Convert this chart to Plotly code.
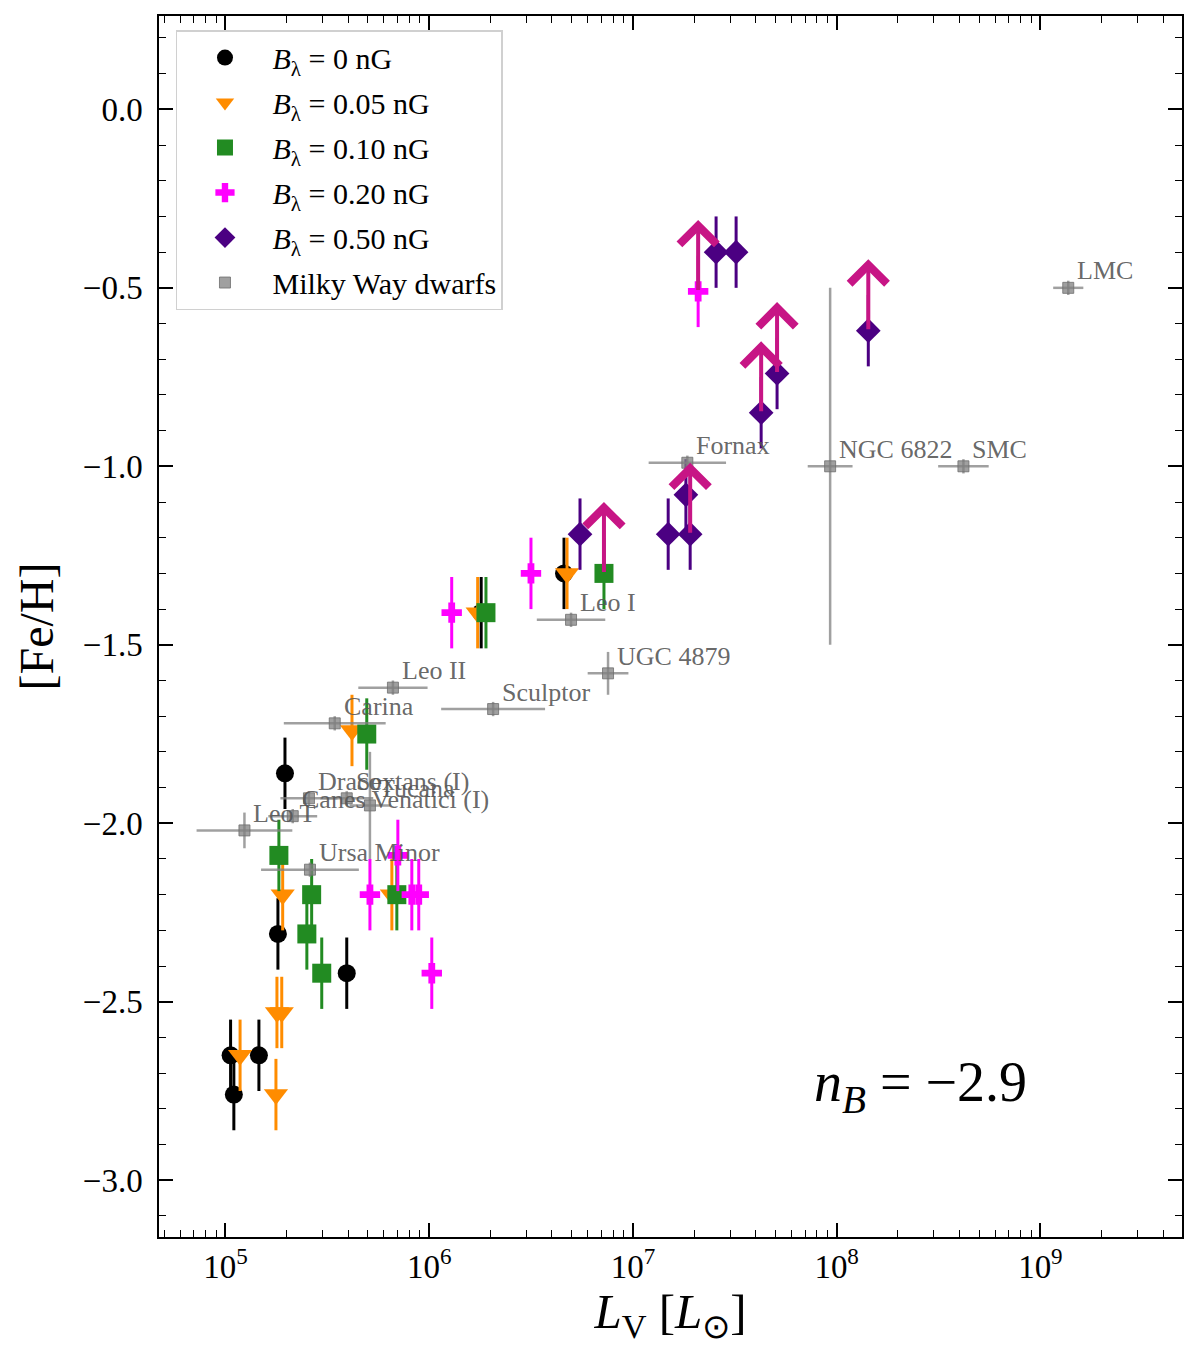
import numpy as np
import plotly.graph_objects as go

# ---------------- data ----------------
# B_lambda = 0 nG
L_b000 = [1.06e5, 1.10e5, 1.46e5, 1.81e5, 1.96e5, 3.94e5, 1.80e6, 4.59e6]
feh_b000 = [-2.65, -2.76, -2.65, -2.31, -1.86, -2.42, -1.41, -1.30]
# B_lambda = 0.05 nG
L_b005 = [1.18e5, 1.77e5, 1.79e5, 1.89e5, 1.91e5, 4.18e5, 6.56e5, 1.73e6, 4.75e6]
feh_b005 = [-2.65, -2.76, -2.53, -2.53, -2.20, -1.74, -2.20, -1.41, -1.30]
# B_lambda = 0.10 nG
L_b010 = [1.83e5, 2.65e5, 2.51e5, 2.97e5, 4.94e5, 6.94e5, 1.90e6, 7.21e6]
feh_b010 = [-2.09, -2.20, -2.31, -2.42, -1.75, -2.20, -1.41, -1.30]
# B_lambda = 0.20 nG
L_b020 = [5.12e5, 7.02e5, 8.22e5, 8.89e5, 1.03e6, 1.29e6, 3.16e6, 2.09e7]
feh_b020 = [-2.20, -2.09, -2.20, -2.20, -2.42, -1.41, -1.30, -0.51]
# B_lambda = 0.50 nG
L_b050 = [5.50e6, 1.49e7, 1.91e7, 1.82e7, 2.56e7, 3.21e7, 4.26e7, 5.10e7, 1.43e8]
feh_b050 = [-1.19, -1.19, -1.19, -1.08, -0.40, -0.40, -0.85, -0.74, -0.62]
feh_err = 0.1

# lower limits (arrows)
lim_L = [7.21e6, 2.09e7, 1.91e7, 4.26e7, 5.10e7, 1.43e8]
lim_feh = [-1.30, -0.51, -1.19, -0.85, -0.74, -0.62]
lim_len = 0.2

# Milky Way dwarfs
dwarf_names = ["Leo T", "Canes Venatici (I)", "Draco", "Sextans (I)", "Tucana",
               "Ursa Minor", "Carina", "Leo II", "Sculptor", "Leo I",
               "UGC 4879", "Fornax", "NGC 6822", "SMC", "LMC"]
dwarf_L = [1.24e5, 2.14e5, 2.57e5, 3.94e5, 5.12e5,
           2.60e5, 3.44e5, 6.64e5, 2.06e6, 4.97e6,
           7.55e6, 1.85e7, 9.29e7, 4.19e8, 1.37e9]
dwarf_feh = [-2.02, -1.98, -1.93, -1.93, -1.95,
             -2.13, -1.72, -1.62, -1.68, -1.43,
             -1.58, -0.99, -1.00, -1.00, -0.50]
dwarf_Lerr_dex = [0.235, 0.12, 0.14, 0.13, 0.10,
                  0.24, 0.25, 0.17, 0.255, 0.168,
                  0.10, 0.19, 0.11, 0.124, 0.074]
dwarf_feh_err = [0.05, 0.02, 0.02, 0.02, 0.15,
                 0.02, 0.02, 0.02, 0.02, 0.02,
                 0.06, 0.02, 0.50, 0.02, 0.02]

# ---------------- styling ----------------
FONT = "Liberation Serif"
GRAY = "rgba(128,128,128,0.75)"

series = [
    (L_b000, feh_b000, "black", "circle", 18, "<i>B</i><sub>λ</sub> = 0 nG"),
    (L_b005, feh_b005, "#FF8C00", "triangle-down", 21, "<i>B</i><sub>λ</sub> = 0.05 nG"),
    (L_b010, feh_b010, "#228B22", "square", 19, "<i>B</i><sub>λ</sub> = 0.10 nG"),
    (L_b020, feh_b020, "#FF00FF", "cross", 17, "<i>B</i><sub>λ</sub> = 0.20 nG"),
    (L_b050, feh_b050, "#4B0082", "diamond", 19, "<i>B</i><sub>λ</sub> = 0.50 nG"),
]

fig = go.Figure()

for i, (xs, ys, col, sym, sz, name) in enumerate(series):
    fig.add_trace(go.Scatter(
        x=xs, y=ys, mode="markers", name=name, legendgroup="g%d" % i,
        marker=dict(color=col, symbol=sym, size=sz, line=dict(width=0)),
        error_y=dict(type="constant", value=feh_err, color=col, thickness=3, width=0),
    ))

Ld = np.array(dwarf_L)
dex = np.array(dwarf_Lerr_dex)
fig.add_trace(go.Scatter(
    x=dwarf_L, y=dwarf_feh, mode="markers", name="Milky Way dwarfs", legendgroup="gd",
    marker=dict(color=GRAY, symbol="square", size=11,
                line=dict(color="rgba(110,110,110,0.8)", width=1)),
    error_x=dict(type="data", symmetric=False, array=Ld * (10 ** dex - 1),
                 arrayminus=Ld * (1 - 10 ** (-dex)), color=GRAY, thickness=2.5, width=0),
    error_y=dict(type="data", array=dwarf_feh_err, color=GRAY, thickness=2.5, width=0),
))

annotations = []
# lower-limit arrows
for Lv, fv in zip(lim_L, lim_feh):
    annotations.append(dict(
        x=np.log10(Lv), y=fv + lim_len, ax=np.log10(Lv), ay=fv,
        xref="x", yref="y", axref="x", ayref="y", text="",
        showarrow=True, arrowhead=4, arrowsize=1.8, arrowwidth=4,
        arrowcolor="#C71585", standoff=0, startstandoff=0,
    ))
# dwarf labels
for nm, Lv, fv in zip(dwarf_names, dwarf_L, dwarf_feh):
    annotations.append(dict(
        x=np.log10(Lv), y=fv, xref="x", yref="y", text=nm, showarrow=False,
        xanchor="left", yanchor="middle", xshift=7, yshift=17,
        font=dict(family=FONT, size=26, color="rgba(85,85,85,0.9)"),
    ))
annotations.append(dict(
    x=0.638, y=0.124, xref="paper", yref="paper", xanchor="left", yanchor="middle",
    text="<i>n</i><sub><i>B</i></sub> = −2.9", showarrow=False,
    font=dict(family=FONT, size=56, color="black"),
))

decades = [5, 6, 7, 8, 9]
xtickvals = [10.0 ** d for d in decades]
xticktext = ["10<sup>%d</sup>" % d for d in decades]
xminor = [k * 10.0 ** d for d in range(4, 10) for k in range(2, 10)]

fig.update_layout(
    width=1192, height=1337,
    margin=dict(l=151, r=18, t=6, b=108),
    paper_bgcolor="white", plot_bgcolor="white",
    font=dict(family=FONT, size=30, color="black"),
    showlegend=True,
    legend=dict(x=0.0166, y=0.9885, xanchor="left", yanchor="top",
                bgcolor="rgba(255,255,255,0.85)", bordercolor="#d0d0d0", borderwidth=1.5,
                font=dict(family=FONT, size=30), tracegroupgap=3, itemwidth=85),
    annotations=annotations,
    xaxis=dict(
        type="log", range=[4.674, 9.695],
        tickmode="array", tickvals=xtickvals, ticktext=xticktext,
        ticks="inside", ticklen=14, tickwidth=1.5, tickcolor="black",
        showline=True, linecolor="black", linewidth=1.5, mirror="allticks",
        showgrid=False, zeroline=False, tickfont=dict(size=33),
        minor=dict(tickmode="array", tickvals=xminor, ticks="inside", ticklen=7,
                   tickwidth=1.2, tickcolor="black", showgrid=False),
        title=dict(text="<i>L</i><sub>V</sub> [<i>L</i><sub>⊙</sub>]",
                   font=dict(size=49), standoff=0),
        ticklabelstandoff=0,
    ),
    yaxis=dict(
        range=[-3.159, 0.2615],
        tickmode="array", tickvals=[0.0, -0.5, -1.0, -1.5, -2.0, -2.5, -3.0],
        tickformat=".1f",
        ticks="inside", ticklen=14, tickwidth=1.5, tickcolor="black",
        showline=True, linecolor="black", linewidth=1.5, mirror="allticks",
        showgrid=False, zeroline=False, tickfont=dict(size=33),
        minor=dict(dtick=0.1, ticks="inside", ticklen=7, tickwidth=1.2,
                   tickcolor="black", showgrid=False),
        title=dict(text="[Fe/H]", font=dict(size=48), standoff=14),
        ticklabelstandoff=8,
    ),
)

fig.write_html("out.html")
